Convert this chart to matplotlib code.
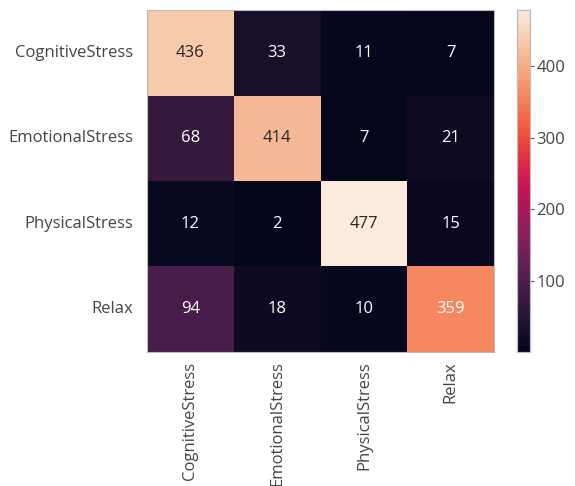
import numpy as np
import matplotlib
matplotlib.use('Agg')
import matplotlib.pyplot as plt
import seaborn as sns

labels = ['CognitiveStress', 'EmotionalStress', 'PhysicalStress', 'Relax']
cm = np.array([[436, 33, 11, 7],
               [68, 414, 7, 21],
               [12, 2, 477, 15],
               [94, 18, 10, 359]])

plt.rcParams['font.family'] = ['Open Sans', 'DejaVu Sans']
plt.rcParams['text.color'] = '#333333'
plt.rcParams['xtick.color'] = '#555555'
plt.rcParams['ytick.color'] = '#555555'
plt.rcParams['xtick.labelcolor'] = '#444444'
plt.rcParams['ytick.labelcolor'] = '#444444'

fig = plt.figure(figsize=(5.75, 4.86), dpi=100)
ax = fig.add_axes([0.2557, 0.276, 0.6035, 0.703])
cax = fig.add_axes([0.899, 0.276, 0.023, 0.703])

sns.heatmap(cm, annot=True, fmt='d', ax=ax, cbar_ax=cax,
            xticklabels=labels, yticklabels=labels,
            annot_kws={'fontsize': 12})

for a in (ax, cax):
    for s in a.spines.values():
        s.set_visible(True)
        s.set_color('#bbbbbb')
        s.set_linewidth(0.8)
ax.tick_params(length=0, labelsize=12, pad=10)
ax.tick_params(axis='x', rotation=90, pad=7)
ax.tick_params(axis='y', rotation=0)
cax.tick_params(length=3, width=0.8, labelsize=12, pad=1.5)
cax.set_yticks([100, 200, 300, 400])

fig.savefig('out.png', dpi=100)
